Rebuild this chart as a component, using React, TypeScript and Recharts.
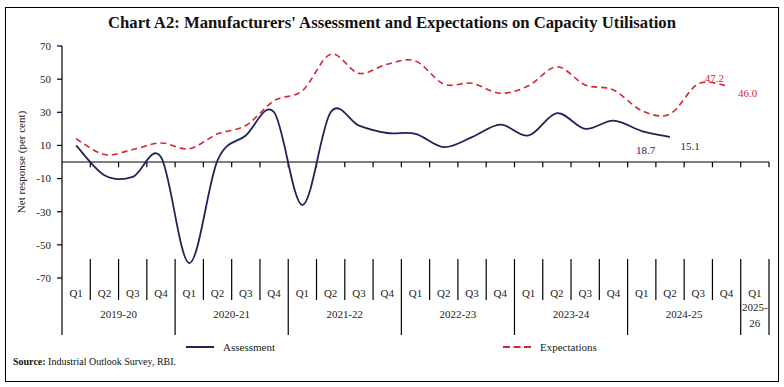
import React from 'react';
import { LineChart, Line, XAxis, YAxis, ReferenceLine, Legend, LabelList } from 'recharts';

const years = ['2019-20', '2020-21', '2021-22', '2022-23', '2023-24', '2024-25', '2025-26'];
const quarters = [
  'Q1', 'Q2', 'Q3', 'Q4', 'Q1', 'Q2', 'Q3', 'Q4', 'Q1', 'Q2', 'Q3', 'Q4', 'Q1',
  'Q2', 'Q3', 'Q4', 'Q1', 'Q2', 'Q3', 'Q4', 'Q1', 'Q2', 'Q3', 'Q4', 'Q1',
];
const assessment = [
  10, -8, -9, 3, -61, 1, 16, 30, -26, 30, 22, 17.5, 17, 9, 15, 22.5, 16, 29.5, 20, 25, 18.7, 15.1,
];
const expectations = [
  14, 4.5, 7.5, 11.5, 8, 17, 22, 37, 43, 65, 53.5, 59, 61, 47, 47.5, 41.5, 46, 57.5, 46.5, 43.5,
  31, 29, 47.2, 46.0,
];
const yTicks = [-70, -50, -30, -10, 10, 30, 50, 70];

const NAVY = '#1f2557';
const RED = '#d42530';
const FONT = '"Liberation Serif", serif';

// layout constants
const PLOT_LEFT = 62;
const PLOT_RIGHT = 769;
const PLOT_BOTTOM = 278;
const BAND = (PLOT_RIGHT - PLOT_LEFT) / quarters.length;

const data = quarters.map((q, i) => ({
  x: i + 0.5,
  q,
  assessment: i < assessment.length ? assessment[i] : null,
  expectations: i < expectations.length ? expectations[i] : null,
}));

const boundaries = quarters.map((_, i) => i).concat(quarters.length);

// Excel-style smoothed line (Catmull-Rom through points)
const excelSmooth = (context: any) => {
  let pts: number[][] = [];
  return {
    areaStart() {},
    areaEnd() {},
    lineStart() {
      pts = [];
    },
    lineEnd() {
      if (!pts.length) return;
      context.moveTo(pts[0][0], pts[0][1]);
      for (let i = 0; i < pts.length - 1; i++) {
        const p0 = pts[i - 1] || pts[i];
        const p1 = pts[i];
        const p2 = pts[i + 1];
        const p3 = pts[i + 2] || p2;
        context.bezierCurveTo(
          p1[0] + (p2[0] - p0[0]) / 6,
          p1[1] + (p2[1] - p0[1]) / 6,
          p2[0] - (p3[0] - p1[0]) / 6,
          p2[1] - (p3[1] - p1[1]) / 6,
          p2[0],
          p2[1]
        );
      }
    },
    point(x: number, y: number) {
      pts.push([+x, +y]);
    },
  };
};

const XTick = (props: any) => {
  const { x, payload } = props;
  const k = payload.value as number;
  const isYear = k % 4 === 0 || k === quarters.length;
  const top = k === 0 ? PLOT_BOTTOM : PLOT_BOTTOM - 19;
  const bottom = isYear ? 335 : 300;
  const yearIdx = Math.floor(k / 4);
  const yearSpan = Math.min(4, quarters.length - k);
  const yr = years[yearIdx];
  return (
    <g>
      <line x1={x} x2={x} y1={top} y2={bottom} stroke="#000" strokeWidth={1.2} />
      {k < quarters.length && (
        <text x={x + BAND / 2} y={297} textAnchor="middle" fontSize={11} fill="#222" fontFamily={FONT}>
          {quarters[k]}
        </text>
      )}
      {k % 4 === 0 && k < quarters.length && yearSpan === 4 && (
        <text x={x + (BAND * 4) / 2} y={318} textAnchor="middle" fontSize={11} fill="#222" fontFamily={FONT}>
          {yr}
        </text>
      )}
      {k % 4 === 0 && k < quarters.length && yearSpan < 4 && (
        <text x={x + (BAND * yearSpan) / 2} y={311} textAnchor="middle" fontSize={11} fill="#222" fontFamily={FONT}>
          <tspan x={x + (BAND * yearSpan) / 2}>{yr.slice(0, 5)}</tspan>
          <tspan x={x + (BAND * yearSpan) / 2} dy={16}>{yr.slice(5)}</tspan>
        </text>
      )}
    </g>
  );
};

const assessLabel = (props: any) => {
  const { x, y, index, value } = props;
  if (index === 20) {
    return (
      <text x={x + 4} y={y + 23} textAnchor="middle" fontSize={11} fill={NAVY} fontFamily={FONT}>
        {value}
      </text>
    );
  }
  if (index === 21) {
    return (
      <text x={x + 20} y={y + 13} textAnchor="middle" fontSize={11} fill={NAVY} fontFamily={FONT}>
        {value}
      </text>
    );
  }
  return null;
};

const expectLabel = (props: any) => {
  const { x, y, index, value } = props;
  if (index === 22) {
    return (
      <text x={x + 16} y={y - 2} textAnchor="middle" fontSize={11} fill={RED} fontFamily={FONT}>
        {Number(value).toFixed(1)}
      </text>
    );
  }
  if (index === 23) {
    return (
      <text x={x + 21} y={y + 11} textAnchor="middle" fontSize={11} fill={RED} fontFamily={FONT}>
        {Number(value).toFixed(1)}
      </text>
    );
  }
  return null;
};

const renderLegend = (props: any) => {
  const { payload } = props;
  const lefts = [186, 503];
  return (
    <div style={{ position: 'relative', width: 784, height: 16 }}>
      {(payload || []).map((entry: any, i: number) => (
        <div
          key={entry.value}
          style={{
            position: 'absolute',
            left: lefts[i],
            top: 0,
            display: 'flex',
            alignItems: 'center',
            fontFamily: FONT,
            fontSize: 11,
            color: '#222',
          }}
        >
          <svg width={28} height={6} style={{ marginRight: 9 }}>
            <line
              x1={0}
              x2={28}
              y1={3}
              y2={3}
              stroke={entry.color}
              strokeWidth={2}
              strokeDasharray={i === 1 ? '7 3.5' : undefined}
            />
          </svg>
          {entry.value}
        </div>
      ))}
    </div>
  );
};

const YLabel = () => (
  <text
    x={21}
    y={162}
    transform="rotate(-90 21 162)"
    textAnchor="middle"
    dominantBaseline="central"
    fontSize={11}
    fill="#222"
    fontFamily={FONT}
  >
    Net  response (per cent)
  </text>
);

export default function App() {
  return (
    <div style={{ position: 'absolute', left: 0, top: 0, width: 784, height: 387, background: '#fff', fontFamily: FONT }}>
      <div
        style={{
          position: 'absolute',
          left: 5,
          top: 7,
          width: 772,
          height: 373,
          border: '1.5px solid #000',
        }}
      />
      <div
        style={{
          position: 'absolute',
          left: 0,
          top: 13,
          width: 784,
          textAlign: 'center',
          fontSize: 16.7,
          fontWeight: 'bold',
          color: '#111',
        }}
      >
        Chart A2: Manufacturers' Assessment and Expectations on Capacity Utilisation
      </div>
      <div style={{ position: 'absolute', left: 13, top: 356, fontSize: 10, color: '#111' }}>
        <b>Source:</b> Industrial Outlook Survey, RBI.
      </div>
      <div style={{ position: 'absolute', left: 0, top: 0 }}>
        <LineChart
          width={784}
          height={387}
          data={data}
          margin={{ top: 46, right: 784 - PLOT_RIGHT, left: 22, bottom: 49 }}
        >
          <XAxis
            dataKey="x"
            type="number"
            domain={[0, quarters.length]}
            ticks={boundaries}
            interval={0}
            axisLine={false}
            tickLine={false}
            height={60}
            tick={<XTick />}
          />
          <YAxis
            type="number"
            domain={[-70, 70]}
            ticks={yTicks}
            interval={0}
            width={40}
            axisLine={{ stroke: '#000', strokeWidth: 1.2 }}
            tickLine={{ stroke: '#000', strokeWidth: 1.2 }}
            tickSize={5}
            tickMargin={6}
            tick={{ fontSize: 11, fill: '#222', fontFamily: FONT }}
            label={<YLabel />}
          />
          <ReferenceLine y={0} stroke="#000" strokeWidth={1.2} />
          {boundaries.slice(1).map((k) => (
            <ReferenceLine
              key={'zt' + k}
              segment={[
                { x: k, y: 0 },
                { x: k, y: -3.2 },
              ]}
              stroke="#000"
              strokeWidth={1.2}
            />
          ))}
          <Line
            name="Assessment"
            dataKey="assessment"
            type={excelSmooth as any}
            stroke={NAVY}
            strokeWidth={1.8}
            dot={false}
            activeDot={false}
            isAnimationActive={false}
          >
            <LabelList dataKey="assessment" content={assessLabel} />
          </Line>
          <Line
            name="Expectations"
            dataKey="expectations"
            type={excelSmooth as any}
            stroke={RED}
            strokeWidth={1.6}
            strokeDasharray="6 4"
            dot={false}
            activeDot={false}
            isAnimationActive={false}
          >
            <LabelList dataKey="expectations" content={expectLabel} />
          </Line>
          <Legend
            verticalAlign="middle"
            align="center"
            content={renderLegend}
            wrapperStyle={{ position: 'absolute', left: 0, top: 341, width: 784 }}
          />
        </LineChart>
      </div>
    </div>
  );
}
